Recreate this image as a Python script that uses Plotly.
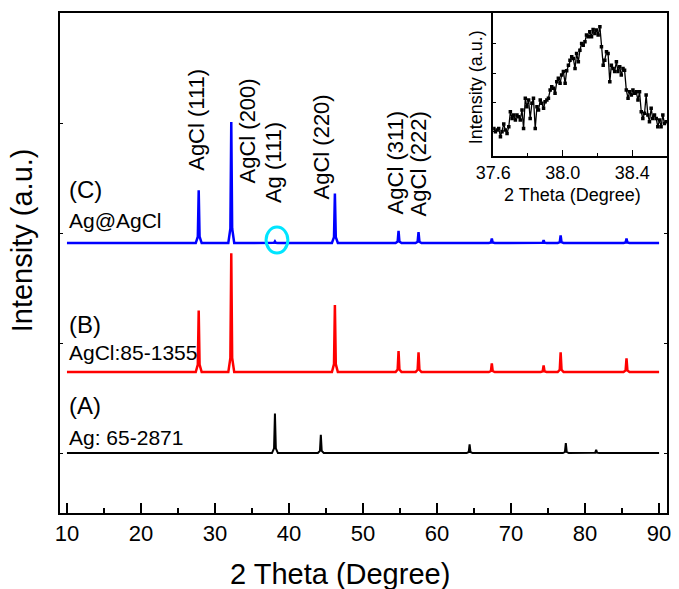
import plotly.graph_objects as go

# ---------------- data ----------------
agcl_pos = [27.8, 32.2, 46.2, 54.8, 57.5, 67.4, 74.4, 76.7, 85.6]
ag_pos = [38.1, 44.3, 64.4, 77.4, 81.5]

sample_agcl_h = [0.48, 1.10, 0.45, 0.11, 0.10, 0.04, 0.025, 0.07, 0.04]
sample_ag_h = [0.015, 0.0, 0.0, 0.0, 0.0]
ref_agcl_h = [0.56, 1.08, 0.61, 0.19, 0.18, 0.08, 0.06, 0.18, 0.125]
ref_ag_h = [0.36, 0.165, 0.08, 0.09, 0.03]

offset_C = 1.909
offset_B = 0.736
offset_A = 0.0

x_start, x_end = 10.0, 90.0

inset_x = [37.604, 37.613, 37.623, 37.632, 37.642, 37.651, 37.661, 37.670, 37.680, 37.690,
           37.699, 37.709, 37.718, 37.728, 37.737, 37.747, 37.756, 37.766, 37.775, 37.785,
           37.794, 37.804, 37.813, 37.823, 37.832, 37.842, 37.852, 37.861, 37.871, 37.880,
           37.890, 37.899, 37.909, 37.918, 37.928, 37.937, 37.947, 37.956, 37.966, 37.975,
           37.985, 37.994, 38.004, 38.014, 38.023, 38.033, 38.042, 38.052, 38.061, 38.071,
           38.080, 38.090, 38.099, 38.109, 38.118, 38.128, 38.137, 38.147, 38.156, 38.166,
           38.175, 38.185, 38.194, 38.204, 38.214, 38.223, 38.233, 38.242, 38.252, 38.261,
           38.271, 38.280, 38.290, 38.299, 38.309, 38.318, 38.328, 38.337, 38.347, 38.356,
           38.366, 38.376, 38.385, 38.395, 38.404, 38.414, 38.423, 38.433, 38.442, 38.452,
           38.461, 38.471, 38.480, 38.490, 38.499, 38.509, 38.518, 38.528, 38.538, 38.547,
           38.557, 38.566, 38.576, 38.585, 38.595]
inset_y = [1.11, 1.00, 1.06, 1.11, 0.83, 1.00, 1.26, 1.06, 0.94, 1.17,
           1.68, 1.45, 1.57, 1.40, 1.57, 1.51, 1.40, 1.74, 1.11, 2.14,
           1.85, 2.08, 1.45, 1.97, 2.14, 1.11, 1.85, 1.74, 2.08, 1.97,
           1.80, 2.02, 2.08, 2.14, 2.42, 2.53, 2.48, 2.31, 2.70, 2.82,
           2.65, 2.93, 3.05, 2.65, 3.08, 3.27, 3.44, 3.56, 3.50, 3.16,
           3.67, 3.39, 3.78, 4.01, 3.95, 4.07, 4.30, 4.24, 4.41, 4.24,
           4.49, 4.35, 4.47, 4.30, 4.58, 3.90, 3.27, 3.44, 3.73, 3.67,
           2.70, 3.27, 3.16, 3.05, 3.39, 3.05, 3.22, 2.93, 3.16, 3.10,
           2.42, 2.14, 2.36, 2.25, 2.42, 2.31, 2.36, 2.08, 2.36, 1.68,
           1.45, 1.63, 2.25, 1.57, 1.34, 1.80, 1.45, 1.57, 1.45, 1.17,
           1.40, 1.17, 1.57, 1.28, 1.34]

peak_labels = ["AgCl (111)", "AgCl (200)", "Ag (111)", "AgCl (220)", "AgCl (311)", "AgCl (222)"]
peak_label_x = [27.58, 34.43, 37.9, 44.36, 54.43, 57.52]
peak_label_y = [3.03, 2.93, 2.64, 2.78, 2.64, 2.63]

main_xticks = [10, 20, 30, 40, 50, 60, 70, 80, 90]
inset_xticks = [37.6, 38.0, 38.4]


def stick_pattern(positions, heights, offset):
    pairs = sorted(zip(positions, heights))
    xs, ys = [x_start], [offset]
    for p, h in pairs:
        if h <= 0:
            continue
        xs += [p - 0.4, p - 0.12, p, p + 0.12, p + 0.4]
        ys += [offset, offset + 0.12 * h, offset + h, offset + 0.12 * h, offset]
    xs.append(x_end)
    ys.append(offset)
    return xs, ys


FONT = "Liberation Sans, Arial, sans-serif"

xa, ya = stick_pattern(ag_pos, ref_ag_h, offset_A)
xb, yb = stick_pattern(agcl_pos, ref_agcl_h, offset_B)
xc, yc = stick_pattern(agcl_pos + ag_pos, sample_agcl_h + sample_ag_h, offset_C)

fig = go.Figure()
fig.add_trace(go.Scatter(x=xa, y=ya, mode="lines", line=dict(color="black", width=2), showlegend=False))
fig.add_trace(go.Scatter(x=xb, y=yb, mode="lines", line=dict(color="#ff0000", width=2.5), showlegend=False))
fig.add_trace(go.Scatter(x=xc, y=yc, mode="lines", line=dict(color="#0000ff", width=2.5), showlegend=False))
fig.add_trace(go.Scatter(x=inset_x, y=inset_y, mode="lines+markers", xaxis="x2", yaxis="y2",
                         line=dict(color="black", width=1.3),
                         marker=dict(symbol="square", size=3.5, color="black"), showlegend=False))

# geometry in pixels
W, H = 679, 589
L, R, T, B = 60, 8, 13, 76
pw, ph = W - L - R, H - T - B


def px(x):
    return (x - L) / pw


def py(y):
    return (H - B - y) / ph


annotations = []
for t, x, y in zip(peak_labels, peak_label_x, peak_label_y):
    annotations.append(dict(text=t, x=x, y=y, xref="x", yref="y", textangle=-90, showarrow=False,
                            xanchor="center", yanchor="middle",
                            font=dict(family=FONT, size=22, color="black")))

side_labels = [("(C)", 2.40, 24), ("Ag@AgCl", 2.118, 21), ("(B)", 1.164, 24),
               ("AgCl:85-1355", 0.918, 21), ("(A)", 0.436, 24), ("Ag: 65-2871", 0.145, 21)]
for t, y, s in side_labels:
    annotations.append(dict(text=t, x=10.0, y=y, xref="x", yref="y", xanchor="left", yanchor="middle",
                            showarrow=False, font=dict(family=FONT, size=s, color="black")))

annotations += [
    dict(text="2 Theta (Degree)", x=px(342), y=py(574), xref="paper", yref="paper", showarrow=False,
         xanchor="center", yanchor="middle", font=dict(family=FONT, size=29, color="black")),
    dict(text="Intensity (a.u.)", x=px(22), y=py(240), xref="paper", yref="paper", showarrow=False,
         xanchor="center", yanchor="middle", textangle=-90, font=dict(family=FONT, size=29, color="black")),
    dict(text="2 Theta (Degree)", x=px(576), y=py(195), xref="paper", yref="paper", showarrow=False,
         xanchor="center", yanchor="middle", font=dict(family=FONT, size=18, color="black")),
    dict(text="Intensity (a.u.)", x=px(479), y=py(87), xref="paper", yref="paper", showarrow=False,
         xanchor="center", yanchor="middle", textangle=-90, font=dict(family=FONT, size=18, color="black")),
]

fig.update_layout(
    width=W, height=H, margin=dict(l=L, r=R, t=T, b=B),
    paper_bgcolor="white", plot_bgcolor="white",
    annotations=annotations,
    shapes=[dict(type="circle", xref="x", yref="y", x0=36.9, x1=39.85, y0=1.818, y1=2.054,
                 line=dict(color="#00e5ff", width=3))],
    xaxis=dict(range=[9.06, 91.07], showgrid=False, zeroline=False, showline=True, linecolor="black",
               linewidth=2, mirror=True, ticks="inside", ticklen=10, tickwidth=1.5, tickcolor="black",
               tickvals=main_xticks, ticktext=[str(v) for v in main_xticks],
               minor=dict(tickvals=[15, 25, 35, 45, 55, 65, 75, 85], ticks="inside", ticklen=5,
                          tickwidth=1.5, tickcolor="black"),
               tickfont=dict(family=FONT, size=22, color="black")),
    yaxis=dict(range=[-0.545, 4.0], showgrid=False, zeroline=False, showline=True, linecolor="black",
               linewidth=2, mirror="ticks", ticks="inside", ticklen=3, tickwidth=1.2, tickcolor="black",
               tickvals=[0, 1, 2, 3], showticklabels=False),
    xaxis2=dict(domain=[px(496), 1.0], anchor="y2", range=[37.6, 38.6], showgrid=False, zeroline=False,
                showline=True, linecolor="black", linewidth=1.5, mirror=True, ticks="inside", ticklen=6,
                tickwidth=1, tickcolor="black", tickvals=inset_xticks,
                ticktext=["37.6", "38.0", "38.4"],
                minor=dict(tickvals=[37.8, 38.2], ticks="inside", ticklen=3, tickwidth=1, tickcolor="black"),
                tickfont=dict(family=FONT, size=18, color="black")),
    yaxis2=dict(domain=[py(156), 1.0], anchor="x2", range=[0.17, 5.05], showgrid=False, zeroline=False,
                showline=True, linecolor="black", linewidth=1.5, mirror=True, ticks="inside", ticklen=3,
                tickwidth=1, tickcolor="black", tickvals=[1, 2, 3, 4], showticklabels=False),
)

fig.write_html("out.html")
